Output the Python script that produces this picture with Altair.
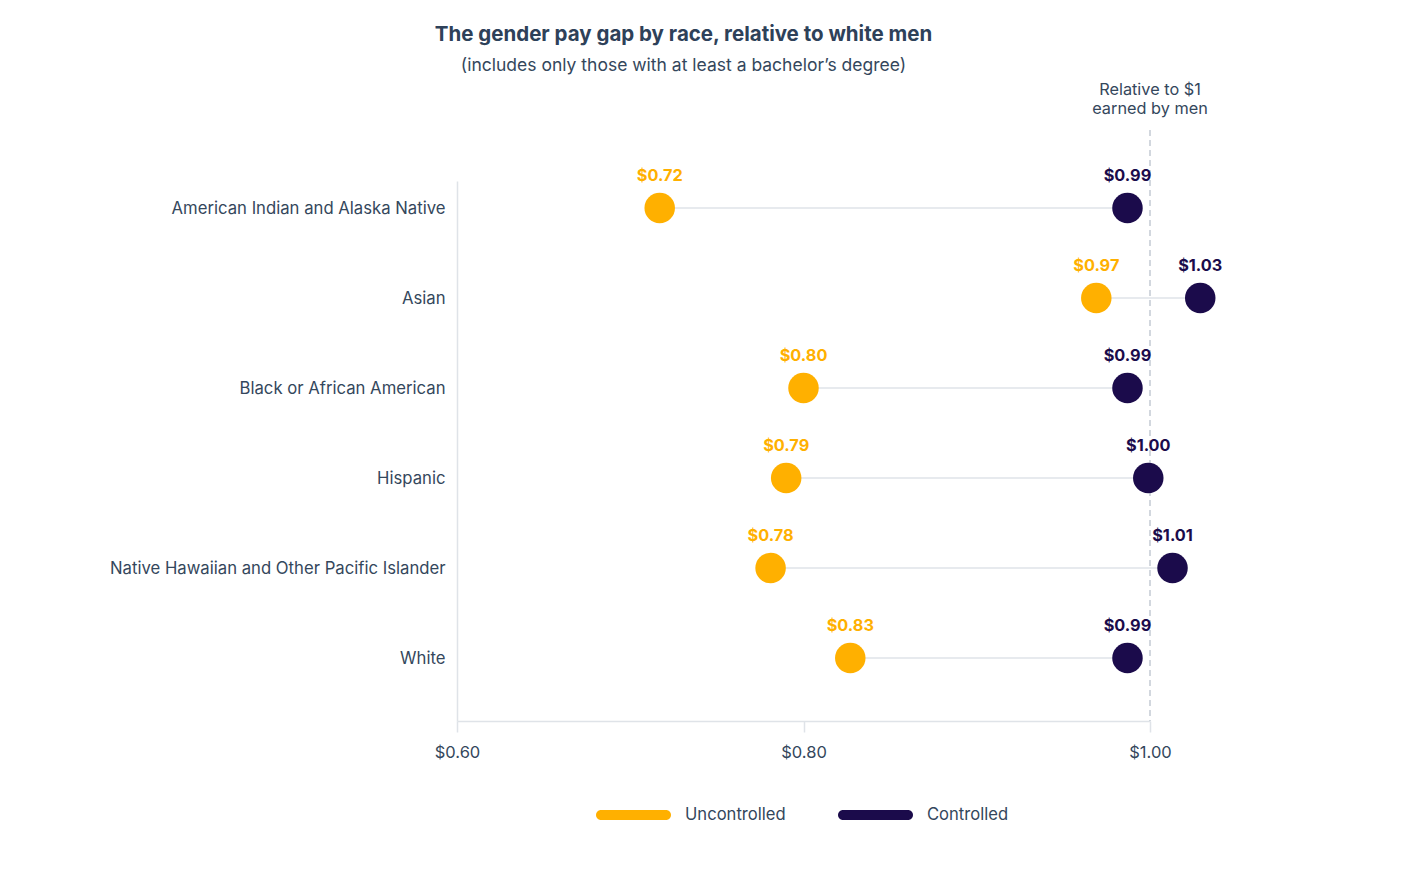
import altair as alt
import pandas as pd

categories = [
    "American Indian and Alaska Native",
    "Asian",
    "Black or African American",
    "Hispanic",
    "Native Hawaiian and Other Pacific Islander",
    "White",
]
uncontrolled = [0.717, 0.969, 0.800, 0.790, 0.781, 0.827]
controlled = [0.987, 1.029, 0.987, 0.999, 1.013, 0.987]
series = ["Uncontrolled", "Controlled"]
colors = ["#FFB000", "#1B0B4B"]
x_ticks = [0.6, 0.8, 1.0]

FONT = "Inter"
TXT = "#34475c"
GRID = "#dfe3e8"

wide = pd.DataFrame({"category": categories, "Uncontrolled": uncontrolled, "Controlled": controlled})
long = pd.DataFrame(
    [{"category": c, "type": "Uncontrolled", "value": u} for c, u in zip(categories, uncontrolled)]
    + [{"category": c, "type": "Controlled", "value": v} for c, v in zip(categories, controlled)]
)

yscale = alt.Scale(type="point", domain=categories, padding=0.5, align=0.3)
xscale = alt.Scale(domain=[0.6, 1.0], nice=False, zero=False)
yaxis = alt.Axis(title=None, ticks=False, labelPadding=12, domainColor=GRID,
                 domainWidth=1.5, labelFontSize=16.7, labelColor=TXT, labelFont=FONT,
                 labelLimit=400)
yenc = alt.Y("category:N", scale=yscale, sort=categories, axis=yaxis)
xaxis = alt.Axis(title=None, values=x_ticks, format="$.2f", grid=False, domainColor=GRID,
                 domainWidth=1.5, tickColor=GRID, tickWidth=1.5, tickSize=11,
                 labelFlush=False, labelPadding=12, labelFontSize=16.5, labelColor=TXT,
                 labelFont=FONT)

connect = alt.Chart(wide).mark_rule(color=GRID, strokeWidth=1.5).encode(
    x=alt.X("Uncontrolled:Q", scale=xscale, axis=xaxis),
    x2="Controlled:Q",
    y=yenc,
)

ref = alt.Chart(alt.Data(values=[{"v": 1.0}])).mark_rule(
    color="#c3cad3", strokeWidth=1.5, strokeDash=[6, 4]
).encode(x=alt.X("v:Q", scale=xscale, axis=xaxis), y=alt.value(-51), y2=alt.value(540))

ref_text = alt.Chart(alt.Data(values=[{"v": 1.0, "t": "Relative to $1\nearned by men"}])).mark_text(
    font=FONT, fontSize=16.3, color=TXT, lineBreak="\n", lineHeight=19, baseline="middle", align="center"
).encode(x=alt.X("v:Q", scale=xscale, axis=xaxis), y=alt.value(-91), text="t:N")

color = alt.Color("type:N", scale=alt.Scale(domain=series, range=colors),
                  legend=alt.Legend(
                      title=None, orient="none", direction="horizontal",
                      legendX=139, legendY=596, padding=0,
                      symbolType="M -0.867 -0.133 H 0.867 A 0.133 0.133 0 0 1 0.867 0.133 H -0.867 A 0.133 0.133 0 0 1 -0.867 -0.133 Z",
                      symbolSize=5625, symbolStrokeWidth=0, symbolOpacity=1,
                      labelFontSize=16.6, labelColor=TXT, labelFont=FONT, labelOffset=14,
                      columnPadding=52))

dots = alt.Chart(long).mark_circle(size=930, opacity=1).encode(
    x=alt.X("value:Q", scale=xscale, axis=xaxis), y=yenc, color=color
)

labels = alt.Chart(long).mark_text(
    dy=-32, font=FONT, fontSize=16.3, fontWeight="bold", baseline="middle"
).encode(
    x=alt.X("value:Q", scale=xscale, axis=xaxis), y=yenc,
    text=alt.Text("value:Q", format="$.2f"),
    color=alt.Color("type:N", scale=alt.Scale(domain=series, range=colors), legend=None),
)

chart = alt.layer(connect, ref, ref_text, dots, labels).properties(
    width=693, height=540,
    background="white",
    title=alt.TitleParams(
        text="The gender pay gap by race, relative to white men",
        subtitle="(includes only those with at least a bachelor’s degree)",
        anchor="middle", frame="group", dx=-120,
        font=FONT, fontSize=20.5, fontWeight="bold", color="#2e4159",
        subtitleFont=FONT, subtitleFontSize=17.5, subtitleColor=TXT, subtitlePadding=11,
        offset=8,
    ),
    autosize=alt.AutoSizeParams(type="none"),
    padding={"left": 449, "top": 173, "right": 250, "bottom": 150},
).configure_view(strokeWidth=0, stroke="transparent")

chart.save("out.html", embed_options={"renderer": "svg", "actions": False})
